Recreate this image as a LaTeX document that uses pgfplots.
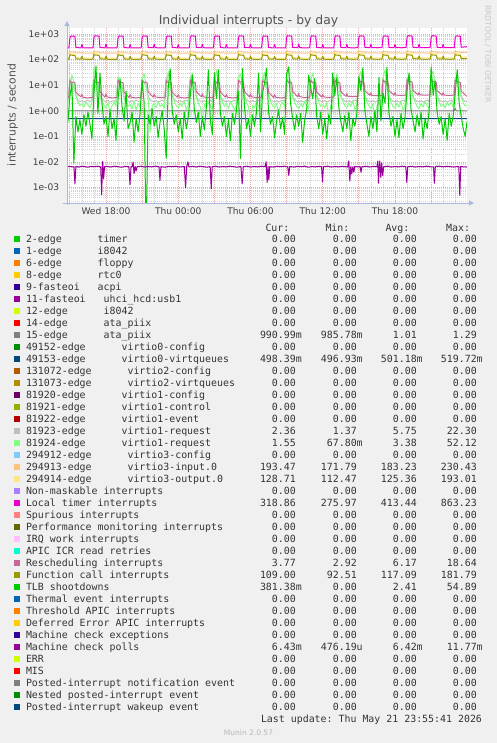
\documentclass[border=0pt]{standalone}
\usepackage{fontspec}
\setmainfont{DejaVu Sans}
\setmonofont{DejaVu Sans Mono}
\usepackage{pgfplots}
\usepackage{pgfplotstable}
\pgfplotsset{compat=1.18}
\usetikzlibrary{arrows.meta}

\definecolor{bgc}{HTML}{F0F0F0}
\definecolor{txt}{HTML}{333333}
\definecolor{axc}{HTML}{AAB8E0}
\definecolor{mgrid}{HTML}{F0A4A4}
\definecolor{ngrid}{HTML}{D2D2D2}

\pgfplotstableread{
t tlb lg gry
14.83 0.35 1.9 2.4
15.00 3.5 9 19
15.17 12 25 11
15.33 0.009 14 10
15.50 0.6 4 4
15.67 0.15 2.2 2.6
15.83 0.45 1.6 2.3
16.00 0.12 1.9 2.5
16.17 0.7 1.4 2.2
16.33 0.25 2.3 2.4
16.50 0.9 1.7 2.6
16.67 0.3 1.3 2.3
16.83 0.08 2.0 2.5
17.00 5 50 21
17.17 54 18 12
17.33 0.8 9 11
17.50 30 3.5 4
17.67 2 2.4 2.8
17.83 0.3 1.7 2.5
18.00 0.6 1.3 2.3
18.17 0.1 2.1 2.6
18.33 1.1 0.9 2.2
18.50 0.2 1.6 2.4
18.67 0.5 2.2 2.5
18.83 0.07 1.5 2.3
19.00 3 22 20
19.17 18 12 11
19.33 1.5 8 10
19.50 0.4 3 3.5
19.67 6 2.1 2.7
19.83 0.2 1.5 2.4
20.00 0.35 1.8 2.2
20.17 0.9 1.2 2.5
20.33 0.06 2.4 2.3
20.50 0.5 1.1 2.6
20.67 0.15 1.9 2.4
20.83 0.8 1.4 2.2
21.00 15 18 19
21.17 2 28 12
21.33 0.00001 10 10
21.50 0.7 3 3.8
21.67 0.3 0.15 2.6
21.83 1.2 1.6 2.4
22.00 0.25 1.9 2.3
22.17 0.6 1.3 2.5
22.33 0.09 2.2 2.2
22.50 0.4 1.5 2.4
22.67 1.0 1.8 2.6
22.83 0.2 1.2 2.3
23.00 0.014 9 20
23.17 8 35 12
23.33 44 12 10
23.50 1.0 4 4
23.67 0.3 2.3 2.7
23.83 0.7 1.6 2.4
24.00 0.15 1.3 2.3
24.17 0.5 2.0 2.5
24.33 0.08 1.5 2.2
24.50 0.9 2.4 2.4
24.67 0.2 1.1 2.6
24.83 0.55 1.7 2.3
25.00 4 15 21
25.17 25 30 12
25.33 1.2 9 11
25.50 0.35 3.2 3.6
25.67 0.9 2.0 2.6
25.83 0.1 1.4 2.4
26.00 0.6 0.4 2.3
26.17 0.18 1.9 2.5
26.33 1.3 1.3 2.2
26.50 40 2.1 2.4
26.67 0.4 1.6 2.6
26.83 0.12 1.2 2.3
27.00 30 12 20
27.17 3 40 12
27.33 40 14 10
27.50 0.8 3.5 3.8
27.67 0.25 2.2 2.7
27.83 0.6 1.5 2.4
28.00 0.1 1.9 2.3
28.17 0.45 1.2 2.5
28.33 0.07 2.3 2.2
28.50 0.8 1.6 2.4
28.67 0.3 1.1 2.6
28.83 1.0 1.8 2.3
29.00 6 20 19
29.17 0.014 28 11
29.33 46 10 10
29.50 1.5 3.4 3.7
29.67 0.2 2.1 2.6
29.83 0.5 1.5 2.4
30.00 0.1 0.3 2.2
30.17 0.7 1.7 2.5
30.33 0.25 1.3 2.3
30.50 0.9 2.2 2.4
30.67 30 1.5 2.6
30.83 0.15 1.2 2.3
31.00 5 18 21
31.17 12 32 12
31.33 46 11 10
31.50 0.9 3.8 4
31.67 0.3 2.3 2.6
31.83 0.6 1.6 2.4
32.00 0.09 1.3 2.3
32.17 0.4 2.0 2.5
32.33 1.1 0.8 2.2
32.50 0.2 1.7 2.4
32.67 0.55 2.2 2.6
32.83 0.12 1.4 2.3
33.00 28 24 20
33.17 52 35 12
33.33 2 12 11
33.50 0.5 3.3 3.6
33.67 0.18 2.1 2.7
33.83 0.7 1.5 2.4
34.00 0.25 1.2 2.2
34.17 0.8 1.9 2.5
34.33 0.06 1.4 2.3
34.50 0.45 2.3 2.4
34.67 1.2 1.6 2.6
34.83 25 1.2 2.3
35.00 8 16 19
35.17 3 30 12
35.33 18 11 10
35.50 0.6 3.5 3.8
35.67 0.2 2.2 2.6
35.83 0.9 1.5 2.4
36.00 0.12 1.8 2.3
36.17 0.5 1.3 2.5
36.33 0.08 2.1 2.2
36.50 0.7 0.5 2.4
36.67 0.3 1.7 2.6
36.83 30 1.2 2.3
37.00 4 14 20
37.17 20 28 12
37.33 1.5 12 10
37.50 0.4 3.6 3.7
37.67 0.15 2.3 2.7
37.83 0.65 1.6 2.4
38.00 0.2 1.3 2.3
38.17 0.9 2.0 2.5
38.33 0.07 1.5 2.2
38.50 0.5 2.4 2.4
38.67 0.25 1.1 2.6
38.83 0.8 1.8 2.3
39.00 22 20 21
39.17 6 35 12
39.33 48 13 11
39.50 1.0 3.8 3.9
39.67 0.3 2.2 2.6
39.83 0.1 1.6 2.4
40.00 0.6 1.2 2.3
40.17 0.2 1.9 2.5
40.33 1.0 0.35 2.2
40.50 0.15 1.5 2.4
40.67 20 2.2 2.6
40.83 0.4 1.3 2.3
41.00 5 18 19
41.17 2 40 12
41.33 50 12 10
41.50 0.8 3.5 3.8
41.67 0.25 2.1 2.6
41.83 0.6 1.5 2.4
42.00 0.1 1.3 2.3
42.17 0.45 2.0 2.5
42.33 0.09 1.4 2.2
42.50 0.8 2.3 2.4
42.67 0.2 1.0 2.6
42.83 0.55 1.7 2.3
43.00 6 15 20
43.17 30 26 12
43.33 1.2 11 10
43.50 0.4 3.4 3.6
43.67 0.15 2.2 2.7
43.83 0.7 1.5 2.4
44.00 0.25 1.2 2.3
44.17 0.9 1.9 2.5
44.33 0.08 1.4 2.2
44.50 0.5 2.3 2.4
44.67 0.2 1.6 2.6
44.83 1.0 1.2 2.3
45.00 50 25 21
45.17 4 35 12
45.33 15 12 11
45.50 0.9 3.7 3.9
45.67 0.3 2.2 2.6
45.83 0.6 1.5 2.4
46.00 0.12 1.8 2.3
46.17 0.5 1.3 2.5
46.33 0.07 2.1 2.2
46.50 0.8 1.6 2.4
46.67 0.25 2.2 2.6
46.83 0.6 1.4 2.3
47.00 5 14 20
47.17 40 28 12
47.33 2 11 10
47.50 0.6 3.5 3.8
47.67 0.2 2.0 2.6
47.83 0.1 1.55 2.36
47.98 0.38 1.55 2.36
}\noisy

\pgfplotstableread{
t tim fc yel ora res
14.76 290 104 116 180 3.4
14.92 288 103 115 181 3.3
15.00 700 158 178 212 15.2
15.08 830 150 170 203 13.4
15.42 812 144 163 196 12.6
15.50 293 108 120 184 5.3
15.92 289 104 116 181 3.5
16.00 392 136 124 187 4.4
16.08 291 105 117 182 3.4
16.50 286 102 115 180 3.2
16.92 290 104 116 181 3.4
17.00 740 165 185 220 16.0
17.08 850 151 172 205 13.6
17.42 822 146 166 198 12.8
17.50 296 109 121 185 5.6
17.92 288 103 116 180 3.4
18.00 405 140 126 188 4.6
18.08 290 104 117 181 3.5
18.50 284 101 114 179 3.2
18.92 289 103 116 180 3.3
19.00 715 160 180 214 15.5
19.08 838 149 170 202 13.3
19.42 818 145 164 197 12.5
19.50 294 107 119 183 5.4
19.92 287 103 115 180 3.3
20.00 388 134 123 186 4.3
20.08 289 104 116 181 3.4
20.50 285 102 115 180 3.2
20.92 291 104 116 181 3.4
21.00 725 162 182 216 15.8
21.08 845 152 172 204 13.5
21.42 820 146 165 197 12.7
21.50 297 108 120 184 5.5
21.92 290 104 116 181 3.4
22.00 398 138 125 187 4.5
22.08 292 105 117 182 3.5
22.50 287 102 115 180 3.3
22.92 290 104 116 181 3.4
23.00 710 159 179 213 15.1
23.08 835 150 170 203 13.2
23.42 815 145 163 196 12.5
23.50 295 108 119 183 5.3
23.92 289 103 116 181 3.4
24.00 385 133 123 186 4.3
24.08 290 104 116 181 3.4
24.50 284 101 114 179 3.2
24.92 288 103 115 180 3.3
25.00 735 164 184 218 15.9
25.08 848 151 171 204 13.6
25.42 825 146 166 198 12.8
25.50 298 109 121 185 5.6
25.92 291 104 116 181 3.5
26.00 400 139 125 188 4.6
26.08 292 105 117 182 3.5
26.50 286 102 115 180 3.3
26.92 290 104 116 181 3.4
27.00 720 161 181 215 15.4
27.08 840 150 171 203 13.4
27.42 818 145 164 197 12.6
27.50 294 108 120 184 5.4
27.92 288 103 116 180 3.4
28.00 390 135 124 186 4.4
28.08 290 104 116 181 3.4
28.50 285 102 115 180 3.2
28.92 289 103 116 180 3.3
29.00 730 163 183 217 15.7
29.08 852 152 172 205 13.7
29.42 826 147 166 198 12.9
29.50 297 109 121 185 5.6
29.92 290 104 116 181 3.5
30.00 402 140 126 188 4.6
30.08 291 105 117 182 3.5
30.50 286 102 115 180 3.3
30.92 290 104 116 181 3.4
31.00 712 158 179 213 15.2
31.08 836 149 170 202 13.3
31.42 814 144 163 196 12.5
31.50 293 107 119 183 5.3
31.92 288 103 115 180 3.3
32.00 386 134 123 186 4.3
32.08 289 104 116 181 3.4
32.50 284 101 114 179 3.2
32.92 288 103 115 180 3.3
33.00 745 166 186 222 16.2
33.08 855 153 173 206 13.8
33.42 828 147 167 199 12.9
33.50 299 109 121 185 5.7
33.92 291 104 116 181 3.5
34.00 408 141 127 189 4.7
34.08 293 105 117 182 3.6
34.50 287 102 115 180 3.3
34.92 291 104 116 181 3.4
35.00 718 160 180 214 15.4
35.08 842 150 171 203 13.4
35.42 818 145 164 197 12.6
35.50 295 108 120 184 5.4
35.92 289 103 116 180 3.4
36.00 392 136 124 187 4.4
36.08 290 104 116 181 3.5
36.50 285 102 115 180 3.3
36.92 290 104 116 181 3.5
37.00 728 162 182 216 15.6
37.08 846 151 172 204 13.6
37.42 822 146 165 198 12.8
37.50 298 109 121 185 5.7
37.92 292 104 117 181 3.7
38.00 398 138 125 187 4.7
38.08 293 105 117 182 3.7
38.50 288 103 116 181 3.6
38.92 292 104 117 181 3.7
39.00 735 163 183 217 16.0
39.08 850 152 172 205 14.0
39.42 826 147 166 198 13.0
39.50 300 109 121 185 6.0
39.92 294 104 117 181 4.0
40.00 402 139 126 188 5.0
40.08 295 105 118 182 4.0
40.50 290 103 116 181 3.9
40.92 293 104 117 181 4.0
41.00 722 161 181 215 16.2
41.08 843 151 171 204 14.2
41.42 820 146 165 197 13.2
41.50 298 108 120 184 6.1
41.92 293 104 117 181 4.1
42.00 395 137 125 187 5.1
42.08 294 105 117 182 4.1
42.50 290 103 116 181 4.0
42.92 293 104 117 181 4.1
43.00 740 165 185 219 16.5
43.08 858 153 173 206 14.4
43.42 830 148 167 199 13.4
43.50 301 110 122 186 6.2
43.92 295 105 118 182 4.2
44.00 405 140 127 189 5.2
44.08 296 106 118 183 4.2
44.50 291 103 116 181 4.1
44.92 294 104 117 181 4.2
45.00 730 163 183 217 16.3
45.08 863 152 172 205 14.3
45.42 828 147 166 198 13.3
45.50 300 109 121 185 6.1
45.92 294 104 117 181 4.1
46.00 400 139 126 188 5.1
46.08 295 105 118 182 4.1
46.50 291 103 116 181 4.0
46.92 294 104 117 181 4.1
47.00 725 162 182 216 16.0
47.08 845 151 172 204 14.0
47.42 822 146 165 197 13.0
47.50 305 110 122 188 5.8
47.92 318 109 128 193 3.8
47.98 319 109 129 193 3.77
}\cyc

\newcommand\legfont{\fontsize{9.92bp}{12bp}\selectfont\ttfamily}
\newcommand\ZZ{~~0.00}
\newcommand\lrow[7]{%
  \definecolor{lc}{HTML}{#2}%
  \pgfmathsetmacro\yy{-242.9-12*#1}%
  \fill[lc] (14bp,\yy bp+0.7bp) rectangle (20bp,\yy bp+6.5bp);
  \node[lg] at (26bp,\yy bp) {#3};
  \node[lg] at (260bp,\yy bp) {#4};
  \node[lg] at (320.9bp,\yy bp) {#5};
  \node[lg] at (380.9bp,\yy bp) {#6};
  \node[lg] at (440.9bp,\yy bp) {#7};
}
\newcommand\lz[3]{\lrow{#1}{#2}{#3}{\ZZ}{\ZZ}{\ZZ}{\ZZ}}

\begin{document}
\begin{tikzpicture}[lg/.style={anchor=base west, inner sep=0pt, outer sep=0pt, font=\legfont, text=txt}]
\fill[bgc] (0,0) rectangle (497bp,-743bp);
\path[use as bounding box] (0,0) rectangle (497bp,-743bp);

\node[anchor=base, inner sep=0pt, text=black!68, font=\fontsize{12.4bp}{14bp}\selectfont] at (248.5bp,-24bp) {Individual interrupts - by day};
\node[anchor=base, inner sep=0pt, rotate=90, text=black!68, font=\fontsize{10.8bp}{12bp}\selectfont] at (15.5bp,-115bp) {interrupts / second};
\node[anchor=base, inner sep=0pt, rotate=-90, text=black!22, font=\fontsize{7.6bp}{9bp}\selectfont] at (485.3bp,-54bp) {RRDTOOL / TOBI OETIKER};

\begin{axis}[
  at={(67bp,-203bp)}, anchor=south west,
  width=400bp, height=175bp, scale only axis,
  xmin=14.761, xmax=47.98,
  ymode=log, ymin=2.52e-4, ymax=1714,
  axis background/.style={fill=white},
  axis line style={draw=none},
  major tick length=0pt, minor tick length=0pt,
  xtick={15,18,21,24,27,30,33,36,39,42,45},
  xticklabels={,Wed 18:00,,Thu 00:00,,Thu 06:00,,Thu 12:00,,Thu 18:00,},
  minor xtick={16,17,19,20,22,23,25,26,28,29,31,32,34,35,37,38,40,41,43,44,46,47},
  ytick={0.001,0.01,0.1,1,10,100,1000},
  yticklabels={1e-03,1e-02,1e-01,1e+00,1e+01,1e+02,1e+03},
  minor ytick={0.0003,0.0004,0.0005,0.0006,0.0007,0.0008,0.0009,
    0.002,0.003,0.004,0.005,0.006,0.007,0.008,0.009,
    0.02,0.03,0.04,0.05,0.06,0.07,0.08,0.09,
    0.2,0.3,0.4,0.5,0.6,0.7,0.8,0.9,
    2,3,4,5,6,7,8,9,20,30,40,50,60,70,80,90,
    200,300,400,500,600,700,800,900},
  xmajorgrids, xminorgrids, ymajorgrids, yminorgrids,
  major grid style={draw=mgrid, line width=0.9bp, dash pattern=on 1bp off 1bp},
  minor grid style={draw=ngrid, line width=0.8bp, dash pattern=on 1bp off 1bp},
  yticklabel style={anchor=east, inner sep=0pt, xshift=-7.7bp, text=black!75,
    font=\fontsize{9.1bp}{10bp}\selectfont},
  xticklabel style={anchor=base, inner sep=0pt, yshift=-11.3bp, text=black!75,
    font=\fontsize{9.1bp}{10bp}\selectfont},
  every axis plot/.append style={line width=1bp, line join=round},
]
\addplot[color={rgb,255:red,128;green,128;blue,128}] coordinates {(14.761,1.0) (21.7,1.0) (21.8,1.2) (21.9,1.0) (46.92,1.0) (47.0,1.29) (47.08,1.0) (47.98,0.99)};
\addplot[color={rgb,255:red,0;green,72;blue,125}] coordinates {(14.761,0.5) (30,0.499) (47.98,0.498)};
\addplot[color={rgb,255:red,190;green,190;blue,190}] table[x=t,y=gry] {\noisy};
\addplot[color={rgb,255:red,128;green,255;blue,128}] table[x=t,y=lg] {\noisy};
\addplot[color={rgb,255:red,255;green,192;blue,128}] table[x=t,y=ora] {\cyc};
\addplot[color={rgb,255:red,255;green,230;blue,128}] table[x=t,y=yel] {\cyc};
\addplot[color={rgb,255:red,238;green,0;blue,204}] table[x=t,y=tim] {\cyc};
\addplot[color={rgb,255:red,204;green,102;blue,153}] table[x=t,y=res] {\cyc};
\addplot[color={rgb,255:red,153;green,153;blue,0}] table[x=t,y=fc] {\cyc};
\addplot[color={rgb,255:red,0;green,204;blue,0}] table[x=t,y=tlb] {\noisy};
\addplot[color={rgb,255:red,153;green,0;blue,153}] coordinates {
(14.76,0.0066) (15.0,0.0068) (15.25,0.0065) (15.34,0.0066) (15.42,0.0014) (15.5,0.0067) (15.75,0.0064) (16.0,0.0069) (16.25,0.0066) (16.5,0.0063) (16.75,0.0068) (17.0,0.0066) (17.25,0.0069) (17.56,0.0065) (17.64,0.00053) (17.72,0.0105) (17.80,0.0022) (17.88,0.0066) (18.1,0.0068) (18.4,0.0064) (18.7,0.0069) (19.0,0.0066) (19.3,0.0063) (19.6,0.0068) (19.9,0.0066) (19.99,0.0013) (20.08,0.0067) (20.17,0.0065) (20.25,0.0100) (20.33,0.0035) (20.42,0.0068) (20.5,0.0045) (20.58,0.0066) (20.9,0.0069) (21.2,0.0064) (21.5,0.0067) (21.8,0.0065) (22.1,0.0069) (22.4,0.0066) (22.48,0.0019) (22.56,0.0066) (22.9,0.0063) (23.2,0.0068) (23.5,0.0066) (23.8,0.0069) (24.1,0.0064) (24.5,0.0067) (24.61,0.0010) (24.7,0.0066) (24.8,0.0102) (24.88,0.0065) (25.2,0.0068) (25.5,0.0064) (25.8,0.0069) (26.1,0.0066) (26.4,0.0063) (26.65,0.0067) (26.74,0.0009) (26.82,0.0066) (27.1,0.0069) (27.4,0.0064) (27.7,0.0067) (28.0,0.0065) (28.3,0.0069) (28.6,0.0066) (28.9,0.0063) (29.2,0.0068) (29.31,0.0014) (29.4,0.0066) (29.7,0.0069) (30.0,0.0064) (30.3,0.0067) (30.6,0.0065) (30.9,0.0069) (31.2,0.0066) (31.3,0.0103) (31.38,0.0016) (31.46,0.0068) (31.52,0.002) (31.6,0.0066) (31.9,0.0064) (32.2,0.0068) (32.5,0.0066) (32.8,0.0069) (33.1,0.0065) (33.18,0.003) (33.26,0.0067) (33.6,0.0064) (33.9,0.0068) (34.2,0.0066) (34.5,0.0069) (34.8,0.0063) (35.1,0.0067) (35.4,0.0065) (35.7,0.0068) (35.9,0.0066) (35.98,0.0017) (36.06,0.0066) (36.4,0.0069) (36.7,0.0064) (37.0,0.0067) (37.3,0.0065) (37.6,0.0068) (37.9,0.0066) (38.08,0.0064) (38.16,0.011) (38.25,0.0018) (38.33,0.0067) (38.41,0.0035) (38.5,0.0066) (38.58,0.004) (38.66,0.0068) (38.9,0.0065) (39.1,0.0067) (39.18,0.004) (39.26,0.0066) (39.6,0.0069) (39.9,0.0064) (40.2,0.0068) (40.5,0.0066) (40.57,0.011) (40.63,0.0015) (40.69,0.0067) (40.74,0.011) (40.82,0.0025) (40.9,0.009) (40.98,0.003) (41.06,0.0066) (41.4,0.0069) (41.7,0.0064) (42.0,0.0067) (42.3,0.0065) (42.6,0.0069) (42.9,0.0066) (42.98,0.0016) (43.06,0.0066) (43.4,0.0068) (43.7,0.0064) (44.0,0.0067) (44.3,0.0065) (44.6,0.0069) (44.9,0.0066) (45.2,0.0064) (45.27,0.0015) (45.35,0.0067) (45.7,0.0069) (46.0,0.0065) (46.3,0.0068) (46.6,0.0066) (46.9,0.0064) (47.2,0.0067) (47.3,0.0066) (47.38,0.0005) (47.46,0.0067) (47.7,0.0065) (47.98,0.0064)};
\end{axis}

\draw[axc, line width=1bp, -{Triangle[length=5bp,width=5bp]}] (67bp,-205bp) -- (67bp,-21bp);
\draw[axc, line width=1bp, -{Triangle[length=5bp,width=5bp]}] (63bp,-203bp) -- (474bp,-203bp);

% legend header
\node[anchor=base east, inner sep=0pt, font=\legfont, text=txt] at (289.6bp,-231.9bp) {Cur:};
\node[anchor=base east, inner sep=0pt, font=\legfont, text=txt] at (349.6bp,-231.9bp) {Min:};
\node[anchor=base east, inner sep=0pt, font=\legfont, text=txt] at (409.6bp,-231.9bp) {Avg:};
\node[anchor=base east, inner sep=0pt, font=\legfont, text=txt] at (470.3bp,-231.9bp) {Max:};

\lz{0}{00CC00}{2-edge~~~~~~timer}
\lz{1}{0066B3}{1-edge~~~~~~i8042}
\lz{2}{FF8000}{6-edge~~~~~~floppy}
\lz{3}{FFCC00}{8-edge~~~~~~rtc0}
\lz{4}{330099}{9-fasteoi~~~acpi}
\lz{5}{990099}{11-fasteoi~~~uhci\_hcd:usb1}
\lz{6}{CCFF00}{12-edge~~~~~~i8042}
\lz{7}{FF0000}{14-edge~~~~~~ata\_piix}
\lrow{8}{808080}{15-edge~~~~~~ata\_piix}{990.99m}{985.78m}{~~1.01}{~~1.29}
\lz{9}{008F00}{49152-edge~~~~~~virtio0-config}
\lrow{10}{00487D}{49153-edge~~~~~~virtio0-virtqueues}{498.39m}{496.93m}{501.18m}{519.72m}
\lz{11}{B35A00}{131072-edge~~~~~~virtio2-config}
\lz{12}{B38F00}{131073-edge~~~~~~virtio2-virtqueues}
\lz{13}{6B006B}{81920-edge~~~~~~virtio1-config}
\lz{14}{8FB300}{81921-edge~~~~~~virtio1-control}
\lz{15}{B30000}{81922-edge~~~~~~virtio1-event}
\lrow{16}{BEBEBE}{81923-edge~~~~~~virtio1-request}{~~2.36}{~~1.37}{~~5.75}{~22.30}
\lrow{17}{80FF80}{81924-edge~~~~~~virtio1-request}{~~1.55}{~67.80m}{~~3.38}{~52.12}
\lz{18}{80C9FF}{294912-edge~~~~~~virtio3-config}
\lrow{19}{FFC080}{294913-edge~~~~~~virtio3-input.0}{193.47}{171.79}{183.23}{230.43}
\lrow{20}{FFE680}{294914-edge~~~~~~virtio3-output.0}{128.71}{112.47}{125.36}{193.01}
\lz{21}{AA80FF}{Non-maskable interrupts}
\lrow{22}{EE00CC}{Local timer interrupts}{318.86}{275.97}{413.44}{863.23}
\lz{23}{FF8080}{Spurious interrupts}
\lz{24}{666600}{Performance monitoring interrupts}
\lz{25}{FFBFFF}{IRQ work interrupts}
\lz{26}{00FFCC}{APIC ICR read retries}
\lrow{27}{CC6699}{Rescheduling interrupts}{~~3.77}{~~2.92}{~~6.17}{~18.64}
\lrow{28}{999900}{Function call interrupts}{109.00}{~92.51}{117.09}{181.79}
\lrow{29}{00CC00}{TLB shootdowns}{381.38m}{~~0.00}{~~2.41}{~54.89}
\lz{30}{0066B3}{Thermal event interrupts}
\lz{31}{FF8000}{Threshold APIC interrupts}
\lz{32}{FFCC00}{Deferred Error APIC interrupts}
\lz{33}{330099}{Machine check exceptions}
\lrow{34}{990099}{Machine check polls}{~~6.43m}{476.19u}{~~6.42m}{~11.77m}
\lz{35}{CCFF00}{ERR}
\lz{36}{FF0000}{MIS}
\lz{37}{808080}{Posted-interrupt notification event}
\lz{38}{008F00}{Nested posted-interrupt event}
\lz{39}{00487D}{Posted-interrupt wakeup event}

\node[lg] at (261bp,-722.9bp) {Last update:~Thu May 21 23:55:41 2026};
\node[anchor=base, inner sep=0pt, text=black!28, font=\fontsize{7.5bp}{9bp}\selectfont] at (248.5bp,-735bp) {Munin 2.0.57};
\end{tikzpicture}
\end{document}
